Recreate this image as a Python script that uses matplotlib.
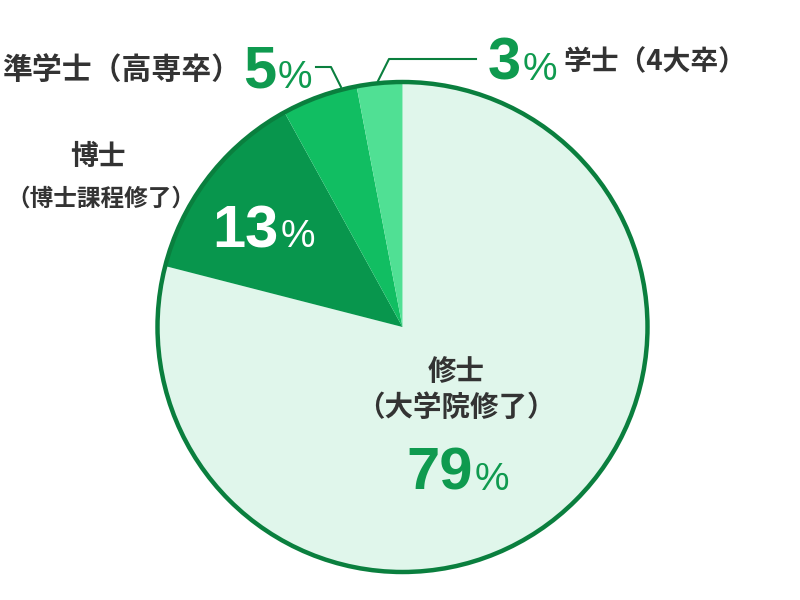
import matplotlib
matplotlib.use("Agg")
import matplotlib.pyplot as plt
from matplotlib.patches import Circle

# Data
categories = ["修士（大学院修了）", "博士（博士課程修了）", "準学士（高専卒）", "学士（4大卒）"]
values = [79, 13, 5, 3]
colors = ["#e0f6eb", "#08964d", "#11be62", "#50e094"]

W, H = 800, 600
fig = plt.figure(figsize=(8, 6), dpi=100)
ax = fig.add_axes([0, 0, 1, 1])
ax.set_xlim(0, W)
ax.set_ylim(0, H)
ax.set_aspect("equal")
ax.axis("off")

def Y(y):
    return H - y

cx, cy, r = 402.5, 327, 245
ax.pie(values, colors=colors, startangle=90, counterclock=False,
       center=(cx, Y(cy)), radius=r, frame=True,
       wedgeprops=dict(linewidth=0, edgecolor="none"))
ax.set_xlim(0, W)
ax.set_ylim(0, H)
ax.axis("off")
ax.add_patch(Circle((cx, Y(cy)), r, fill=False, edgecolor="#0a7f3e", linewidth=3.2, zorder=5))

dark = "#333333"
green = "#0f9a4f"
line_c = "#0a7f3e"
cjk = ["Noto Sans CJK JP", "DejaVu Sans"]
num = ["Liberation Sans", "DejaVu Sans"]

def pct(xr, yb, val, color, nsize=43, psize=28):
    ax.text(xr, Y(yb), str(val), ha="right", va="baseline", fontsize=nsize,
            fontweight="bold", color=color, family=num, zorder=6)
    ax.text(xr + 2, Y(yb), "%", ha="left", va="baseline", fontsize=psize,
            color=color, family=num, zorder=6)

# 79% label
ax.text(456, Y(372), "修士", ha="center", va="center", fontsize=20.5, fontweight="bold",
        color=dark, family=cjk, zorder=6)
ax.text(456, Y(408), "（大学院修了）", ha="center", va="center", fontsize=20.5, fontweight="bold",
        color=dark, family=cjk, zorder=6)
pct(473, 490, values[0], green)

# 13%
pct(279, 247, values[1], "white")
ax.text(98, Y(157), "博士", ha="center", va="center", fontsize=20, fontweight="bold",
        color=dark, family=cjk, zorder=6)
ax.text(101, Y(199), "（博士課程修了）", ha="center", va="center", fontsize=17, fontweight="bold",
        color=dark, family=cjk, zorder=6)

# 5%
ax.text(122, Y(70), "準学士（高専卒）", ha="center", va="center", fontsize=21.5, fontweight="bold",
        color=dark, family=cjk, zorder=6)
pct(276, 88, values[2], green)
ax.plot([316, 331, 341], [Y(67), Y(67), Y(87)], color=line_c, lw=1.5, zorder=6)

# 3%
pct(521, 80, values[3], green)
ax.text(655, Y(62), "学士（4大卒）", ha="center", va="center", fontsize=20, fontweight="bold",
        color=dark, family=cjk, zorder=6)
ax.plot([476, 389, 378], [Y(59), Y(59), Y(81)], color=line_c, lw=1.5, zorder=6)

fig.savefig("out.png", dpi=100)
